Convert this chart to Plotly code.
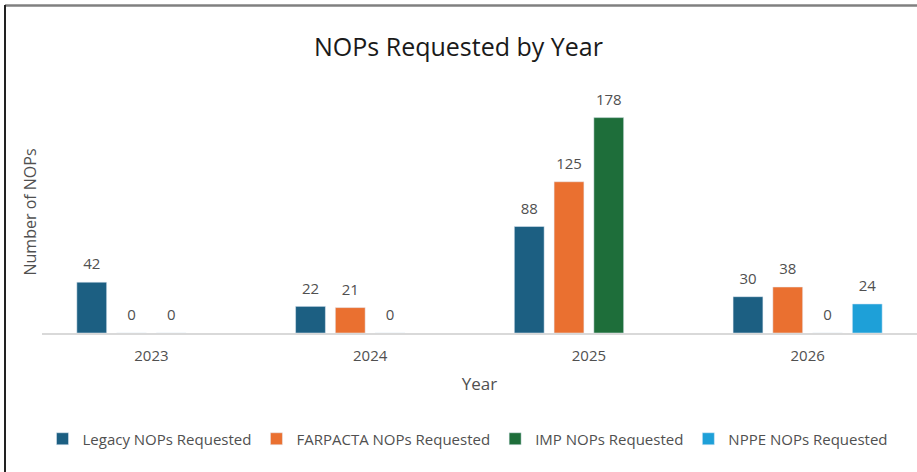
import plotly.graph_objects as go

years = ["2023", "2024", "2025", "2026"]
series_names = ["Legacy NOPs Requested", "FARPACTA NOPs Requested",
                "IMP NOPs Requested", "NPPE NOPs Requested"]
legacy = [42, 22, 88, 30]
farpacta = [0, 21, 125, 38]
imp = [0, 0, 178, 0]
nppe = [None, None, None, 24]
colors = ["#1c5f82", "#ea7030", "#1e6e3a", "#1ea0d8"]

W, H = 917, 472
L, R, T, B = 42, 0, 91, 139
FONT = "Open Sans"
GRAY = "#505050"
GAP = 0.273

fig = go.Figure()
all_vals = [legacy, farpacta, imp, nppe]
for i, (name, vals, col) in enumerate(zip(series_names, all_vals, colors)):
    fig.add_trace(go.Bar(
        x=years, y=vals, name=name, marker_color=col,
        offsetgroup=str(i),
    ))
for i, (name, vals) in enumerate(zip(series_names, all_vals)):
    fig.add_trace(go.Scatter(
        x=years, y=vals, mode="markers+text", name=name + " labels",
        text=[("" if v is None else str(v)) for v in vals],
        textposition="top center", cliponaxis=False,
        marker=dict(size=13, opacity=0), showlegend=False, hoverinfo="skip",
        textfont=dict(size=15, color=GRAY, family=FONT),
        offsetgroup=str(i),
    ))

pw = W - L - R
ph = H - T - B
def px_x(p):
    return (p - L) / pw
def px_y(p):
    return (H - B - p) / ph

fig.update_layout(
    width=W, height=H,
    margin=dict(l=L, r=R, t=T, b=B),
    paper_bgcolor="white", plot_bgcolor="white",
    barmode="group", bargap=GAP, bargroupgap=0.25,
    scattermode="group", scattergap=GAP,
    title=dict(text="NOPs Requested by Year", x=0.5, xanchor="center",
               y=1 - 47 / H, yanchor="middle",
               font=dict(size=25, color="#1a1a1a", family=FONT)),
    xaxis=dict(showline=True, linecolor="#d9d9d9", linewidth=1.5,
               ticks="", ticklabelstandoff=8,
               tickfont=dict(size=15, color=GRAY, family=FONT),
               title=dict(text="Year", font=dict(size=17, color=GRAY, family=FONT),
                          standoff=14)),
    yaxis=dict(range=[0, 200], showgrid=False, zeroline=False, showticklabels=False,
               showline=False,
               title=dict(text="Number of NOPs", font=dict(size=16, color=GRAY, family=FONT),
                          standoff=0)),
    legend=dict(orientation="h", x=px_x(468), xanchor="center", y=px_y(439), yanchor="middle",
                font=dict(size=15, color=GRAY, family=FONT),
                itemwidth=30, tracegroupgap=0),
    showlegend=True,
    shapes=[
        dict(type="line", xref="paper", yref="paper", x0=px_x(5), x1=px_x(917),
             y0=px_y(5.5), y1=px_y(5.5), line=dict(color="#808080", width=2.5)),
        dict(type="line", xref="paper", yref="paper", x0=px_x(5), x1=px_x(5),
             y0=px_y(5), y1=px_y(472), line=dict(color="#222222", width=2)),
    ],
)

fig.write_html("out.html")
